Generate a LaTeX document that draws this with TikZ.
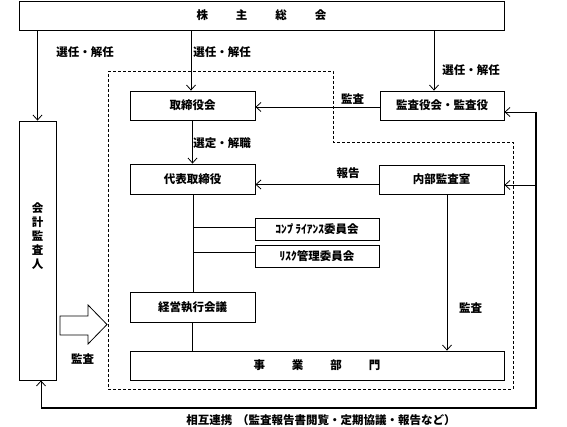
\documentclass[tikz,border=0pt]{standalone}
\usepackage{fontspec}
\setmainfont{Noto Sans CJK JP}
\usetikzlibrary{arrows.meta}
\begin{document}
\begin{tikzpicture}[x=1pt,y=-1pt,
  box/.style={draw, line width=0.8pt, inner sep=0pt, font=\fontsize{11.5}{12}\selectfont\bfseries},
  lbl/.style={inner sep=0pt, font=\fontsize{11.5}{12}\selectfont\bfseries},
  ln/.style={line width=0.8pt},
  arr/.style={line width=0.8pt, -{Straight Barb[length=5pt,width=9pt]}},
  thk/.style={line width=1.2pt}]
\useasboundingbox (0,0) rectangle (567,427);
% boxes
\node[box, minimum width=485pt, minimum height=29pt] (soukai) at (261.5,15.5) {株\hspace{28pt}主\hspace{28pt}総\hspace{28pt}会};
\node[box, minimum width=37pt, minimum height=259pt] (kaikei) at (37.5,250.5) {};
\node[lbl, align=center] (kaikeit) at (37.5,236) {会\\[2pt]計\\[2pt]監\\[2pt]査\\[2pt]人};
\node[box, minimum width=125pt, minimum height=29pt] (tori) at (192.5,105.5) {取締役会};
\node[box, minimum width=124pt, minimum height=29pt] (kansa) at (442,105.5) {監査役会・監査役};
\node[box, minimum width=125pt, minimum height=30pt] (daihyo) at (192.5,179) {代表取締役};
\node[box, minimum width=125pt, minimum height=29pt] (naibu) at (441.5,179.5) {内部監査室};
\node[box, minimum width=124pt, minimum height=22pt] (comp) at (317,229) {ｺﾝﾌ\kern-2pt ﾟ\kern-1pt ﾗｲｱﾝｽ委員会};
\node[box, minimum width=124pt, minimum height=22pt] (risk) at (317,256) {ﾘｽｸ管理委員会};
\node[box, minimum width=125pt, minimum height=30pt] (keiei) at (192.5,307) {経営執行会議};
\node[box, minimum width=374pt, minimum height=29pt] (jigyo) at (317,365.5) {事\hspace{27pt}業\hspace{27pt}部\hspace{27pt}門};
% dashed region
\draw[line width=0.8pt, dash pattern=on 3pt off 2pt] (108,71) -- (333,71) -- (333,142) -- (513,142) -- (513,389) -- (108,389) -- cycle;
% election arrows
\draw[arr] (kaikei.north |- soukai.south) -- (kaikei.north);
\draw[arr] ([xshift=-1.5pt]tori.north |- soukai.south) -- ([xshift=-1.5pt]tori.north);
\draw[arr] ([xshift=-8pt]kansa.north |- soukai.south) -- ([xshift=-8pt]kansa.north);
\node[lbl] (l1) at (85,52) {選任・解任};
\node[lbl] (l2) at (222,52) {選任・解任};
\node[lbl] (l3) at (471,70) {選任・解任};
% audit to board
\draw[arr] ([yshift=-1.5pt]kansa.west) -- ([yshift=-1.5pt]tori.east);
\node[lbl] (l4) at (352.5,99) {監査};
% select
\draw[arr] (tori.south) -- (daihyo.north);
\node[lbl] (l5) at (222,143) {選定・解職};
% report
\draw[arr] ([yshift=-5pt]naibu.west) -- ([yshift=-5pt]naibu.west -| daihyo.east);
\node[lbl] (l6) at (348,173) {報告};
% trunk
\draw[ln] ([xshift=0.5pt]daihyo.south) -- ([xshift=0.5pt]daihyo.south |- keiei.north);
\draw[ln] ([xshift=0.5pt,yshift=2pt]daihyo.south |- comp.west) -- ([yshift=2pt]comp.west);
\draw[ln] ([xshift=0.5pt,yshift=4pt]daihyo.south |- risk.west) -- ([yshift=4pt]risk.west);
\draw[ln] (keiei.south) -- (keiei.south |- jigyo.north);
% internal audit
\draw[arr] ([xshift=5.5pt]naibu.south) -- ([xshift=5.5pt]naibu.south |- jigyo.north);
\node[lbl] (l7) at (470.5,308) {監査};
% right loop
\coordinate (rtop) at (536,112);
\coordinate (rbot) at (536,408);
\coordinate (lbot) at (41,408);
\draw[arr] (rtop) -- (rtop -| kansa.east);
\draw[thk] (rtop) -- (rbot) -- (lbot);
\draw[arr] (lbot) -- (lbot |- kaikei.south);
\draw[arr] ([yshift=-5.5pt]naibu.east -| rtop) -- ([yshift=-5.5pt]naibu.east);
\node[lbl] (l8) at (321,420) {相互連携\hspace{5pt}（監査報告書閲覧・定期協議・報告など）};
% hollow arrow
\draw[line width=0.8pt, fill=white] (60,316) -- (88,316) -- (88,305) -- (107,324.5) -- (88,344) -- (88,335) -- (60,335) -- cycle;
\node[lbl] (l9) at (82.5,359) {監査};
\end{tikzpicture}
\end{document}
